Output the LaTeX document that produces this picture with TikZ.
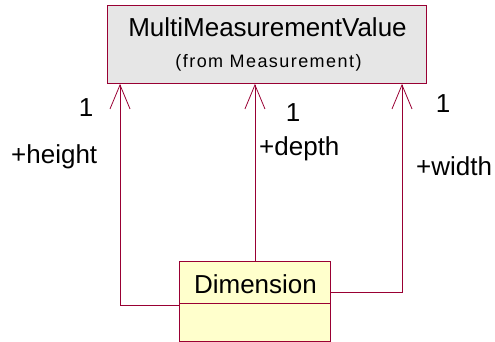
\documentclass[tikz,border=0pt]{standalone}
\usepackage{fontspec}
\setmainfont{Liberation Sans}
\usetikzlibrary{arrows.meta}
\definecolor{umlline}{HTML}{990033}
\definecolor{umlgrey}{HTML}{E6E6E6}
\definecolor{umlyellow}{HTML}{FFFFCC}
\tikzset{
  classbox/.style={draw=umlline, line width=0.9pt, inner sep=0pt, anchor=north west},
  assoc/.style={draw=umlline, line width=0.8pt, -{Straight Barb[length=24pt,width=20pt,line width=0.8pt]}},
  lbl/.style={inner sep=0pt, font=\fontsize{26}{31}\selectfont},
}
\begin{document}
\begin{tikzpicture}[x=1pt,y=-1pt]
\useasboundingbox (0,0) rectangle (495,342);
% classes
\node[classbox, fill=umlgrey, minimum width=319pt, minimum height=78pt] (mmv) at (107,5) {};
\node[classbox, fill=umlyellow, minimum width=151pt, minimum height=80pt] (dim) at (179,261) {};
\coordinate (divl) at (179,303);
\coordinate (divr) at (330,303);
\draw[umlline, line width=0.9pt] (divl) -- (divr);
% class texts
\node[lbl, anchor=base] (title) at (267.5,37) {MultiMeasurementValue};
\node[inner sep=0pt, anchor=base, font=\fontsize{18}{21}\selectfont\addfontfeatures{LetterSpace=8}] (from) at (268.5,68) {(from Measurement)};
\node[lbl, anchor=base] (dimname) at (255.5,293) {Dimension};
% connector x positions
\coordinate (xl) at (120,0);
\coordinate (xr) at (402,0);
% associations
\draw[assoc] ([yshift=-4pt]dim.west) -| (xl |- mmv.south);
\draw[assoc] (dim.north) -- (dim.north |- mmv.south);
\draw[assoc] ([yshift=9pt]dim.east) -| (xr |- mmv.south);
% labels
\node[lbl, anchor=base] (m1) at (86,117) {1};
\node[lbl, anchor=base] (m2) at (293,122) {1};
\node[lbl, anchor=base] (m3) at (443,113) {1};
\node[lbl, anchor=base west] (r1) at (11,163) {+height};
\node[lbl, anchor=base west] (r2) at (259,155) {+depth};
\node[lbl, anchor=base west] (r3) at (416,175) {+width};
\end{tikzpicture}
\end{document}
